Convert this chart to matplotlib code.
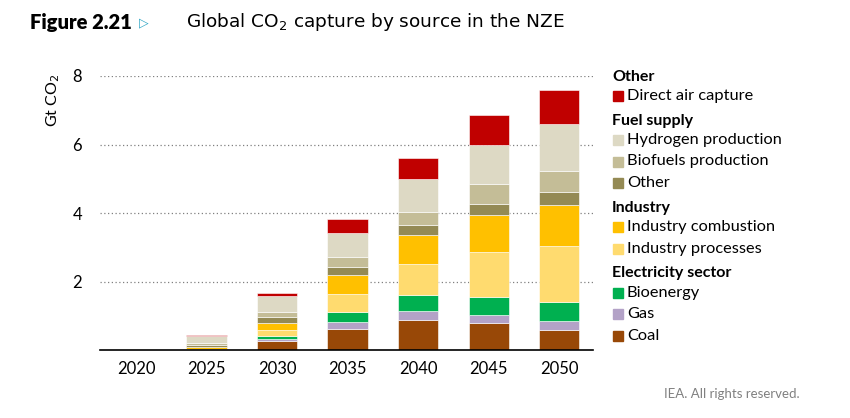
import matplotlib
matplotlib.use("Agg")
import matplotlib.pyplot as plt
from matplotlib.patches import Rectangle

plt.rcParams["font.family"] = ["Lato", "DejaVu Sans"]

years = ["2020", "2025", "2030", "2035", "2040", "2045", "2050"]

# Gt CO2, stacked bottom to top
coal = [0.00, 0.00, 0.26, 0.62, 0.89, 0.79, 0.59]
gas = [0.00, 0.00, 0.06, 0.20, 0.26, 0.24, 0.25]
bioenergy = [0.00, 0.00, 0.09, 0.30, 0.46, 0.52, 0.56]
ind_processes = [0.00, 0.03, 0.18, 0.52, 0.90, 1.31, 1.65]
ind_combustion = [0.00, 0.06, 0.20, 0.55, 0.84, 1.07, 1.17]
fuel_other = [0.01, 0.06, 0.16, 0.24, 0.29, 0.33, 0.39]
biofuels = [0.02, 0.05, 0.17, 0.29, 0.40, 0.58, 0.63]
hydrogen = [0.01, 0.22, 0.46, 0.69, 0.94, 1.14, 1.36]
dac = [0.00, 0.01, 0.09, 0.41, 0.62, 0.88, 0.98]

series = [
    ("Coal", coal, "#984807"),
    ("Gas", gas, "#B3A2C7"),
    ("Bioenergy", bioenergy, "#00B050"),
    ("Industry processes", ind_processes, "#FFDB6F"),
    ("Industry combustion", ind_combustion, "#FFC000"),
    ("Other", fuel_other, "#948A54"),
    ("Biofuels production", biofuels, "#C4BD97"),
    ("Hydrogen production", hydrogen, "#DDD9C4"),
    ("Direct air capture", dac, "#C00000"),
]

legend_groups = [
    ("Other", ["Direct air capture"]),
    ("Fuel supply", ["Hydrogen production", "Biofuels production", "Other"]),
    ("Industry", ["Industry combustion", "Industry processes"]),
    ("Electricity sector", ["Bioenergy", "Gas", "Coal"]),
]

W, H = 850, 418
fig = plt.figure(figsize=(W / 100, H / 100), dpi=100)
ax = fig.add_axes([100 / W, 1 - 350 / H, (593 - 100) / W, (350 - 76) / H])

x = list(range(len(years)))
bottom = [0.0] * len(years)
for name, vals, col in series:
    ax.bar(x, vals, width=0.57, bottom=bottom, color=col, edgecolor="white",
           linewidth=0.4, zorder=3)
    bottom = [b + v for b, v in zip(bottom, vals)]

ax.set_xlim(-0.51, 6.48)
ax.set_ylim(0, 8)
ax.set_yticks([2, 4, 6, 8])
ax.set_xticks(x)
ax.set_xticklabels(years)
ax.yaxis.grid(True, linestyle=(0, (1, 2)), color="#808080", linewidth=0.9)
for s in ["top", "right", "left"]:
    ax.spines[s].set_visible(False)
ax.spines["bottom"].set_color("black")
ax.spines["bottom"].set_linewidth(1.2)
ax.spines["bottom"].set_zorder(4)
ax.tick_params(axis="both", length=0, labelsize=12, colors="black")
ax.tick_params(axis="y", pad=13)
ax.tick_params(axis="x", pad=8)
ax.set_ylabel("Gt CO$_2$", fontsize=11.5)
ax.yaxis.set_label_coords(-0.077, 0.91)

# title
fig.text(30 / W, 1 - 22 / H, "Figure 2.21", fontsize=14.5, fontweight="heavy",
         va="center", ha="left")
fig.text(139 / W, 1 - 22 / H, "\u25B7", fontsize=9, color="#2FA5C4",
         va="center", ha="left", fontweight="bold")
fig.text(186 / W, 1 - 22 / H, "Global CO$_2$ capture by source in the NZE",
         fontsize=13.3, va="center", ha="left", family=["DejaVu Sans"])

# legend
colors = {name: col for name, _, col in series}
y = 77
for header, items in legend_groups:
    fig.text(612 / W, 1 - y / H, header, fontsize=11.5, fontweight="bold",
             va="center", ha="left")
    y += 19
    for it in items:
        fig.patches.append(Rectangle((613 / W, 1 - (y + 5) / H), 10 / W, 10 / H,
                                     transform=fig.transFigure,
                                     color=colors[it]))
        fig.text(627 / W, 1 - y / H, it, fontsize=11.8, va="center", ha="left")
        y += 21.5
    y += 3.5

fig.text(800 / W, 1 - 394 / H, "IEA. All rights reserved.", fontsize=9.5,
         color="#808080", va="center", ha="right")

fig.savefig("out.png", dpi=100)
